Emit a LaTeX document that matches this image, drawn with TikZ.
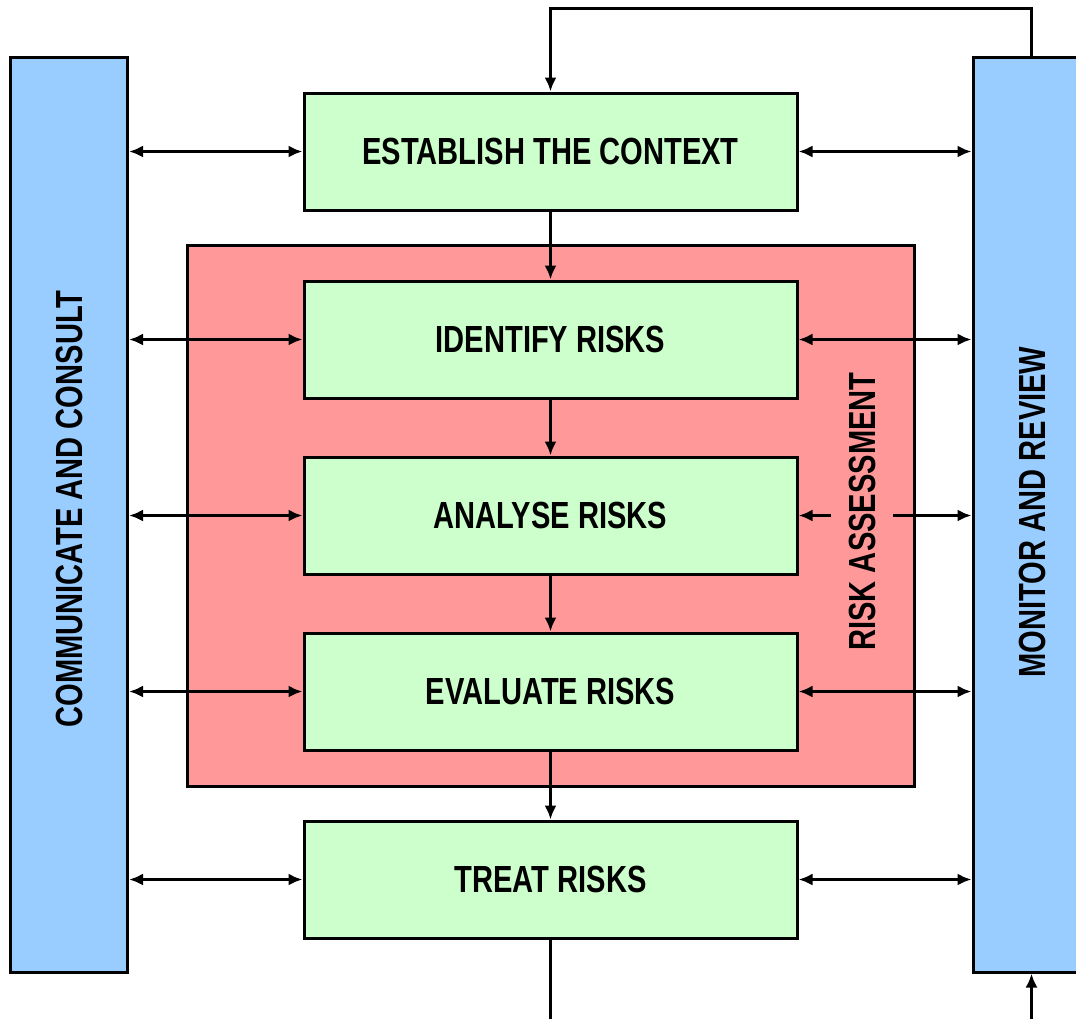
\documentclass[tikz,border=0pt]{standalone}
\usepackage{fontspec}
\newfontfamily\chartfont[FakeStretch=0.77]{Liberation Sans}
\usetikzlibrary{arrows.meta,positioning}
\definecolor{barBlue}{RGB}{153,204,255}
\definecolor{stepGreen}{RGB}{204,255,204}
\definecolor{riskRed}{RGB}{255,153,153}

\begin{document}
\begin{tikzpicture}[
  x=0.5pt, y=-0.5pt,
  font=\chartfont\fontsize{18.9}{22}\selectfont\bfseries,
  bar/.style={draw, line width=1.5pt, fill=barBlue, minimum width=58.5pt, minimum height=457.5pt, inner sep=0pt},
  stepbox/.style={draw, line width=1.5pt, fill=stepGreen, minimum width=246.5pt, minimum height=58.5pt},
  riskbox/.style={draw, line width=1.5pt, fill=riskRed, minimum width=363.5pt, minimum height=270.5pt},
  link/.style={line width=1.4pt, >={Latex[length=7pt,width=6pt]}}
]
\clip (0,0) rectangle (1076,1018);

% side bars
\node[bar] (comm) at (69,514.5) {};
\node[rotate=90] at (69.5,509) {COMMUNICATE AND CONSULT};
\node[bar] (monitor) at (1031.5,514.5) {};
\node[rotate=90] at (1032,512) {MONITOR AND REVIEW};

% risk assessment block
\node[riskbox] (block) at (550.5,515.5) {};

% process steps
\node[stepbox] (context)  at (550.5,151.5) {ESTABLISH THE CONTEXT};
\node[stepbox] (identify) at (550.5,339.5) {IDENTIFY RISKS};
\node[stepbox] (analyse)  at (550.5,515.5) {ANALYSE RISKS};
\node[stepbox] (evaluate) at (550.5,691.5) {EVALUATE RISKS};
\node[stepbox] (treat)    at (550.5,879.5) {TREAT RISKS};

% links to the side bars
\foreach \s in {context,identify,analyse,evaluate,treat} {
  \draw[link,<->] (comm.east |- \s.west) -- (\s.west);
  \draw[link,<->] (\s.east) -- (monitor.west |- \s.east);
}

\node[rotate=90, fill=riskRed, inner xsep=2pt, inner ysep=9pt] (assess) at (862,511.5) {RISK ASSESSMENT};

% main flow
\draw[link,->] (context) -- (identify);
\draw[link,->] (identify) -- (analyse);
\draw[link,->] (analyse) -- (evaluate);
\draw[link,->] (evaluate) -- (treat);

% feedback loop
\coordinate (out) at (550.5,1030);
\coordinate (in) at (1031.5,1030);
\draw[link,->] (monitor.north) -- ++(0,-47) -| (context.north);
\draw[link] (treat.south) -- (out);
\draw[link,->] (in) -- (monitor.south);
\end{tikzpicture}
\end{document}
